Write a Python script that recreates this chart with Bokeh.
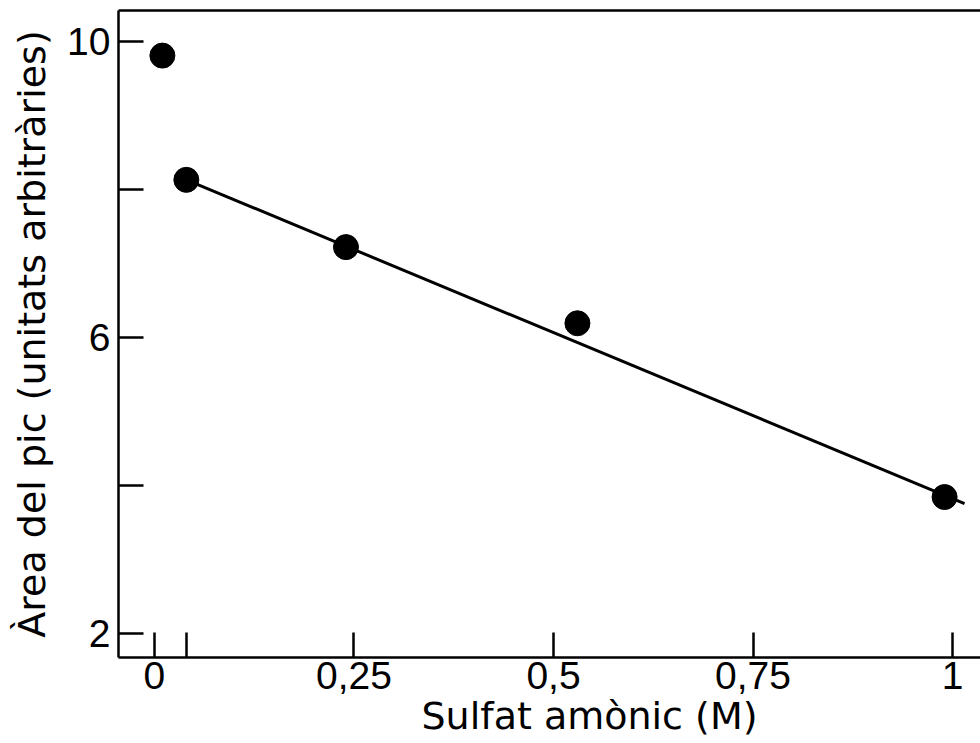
from bokeh.plotting import figure
from bokeh.models import Range1d, FixedTicker, LinearAxis, Title
from bokeh.embed import file_html
from bokeh.resources import INLINE

# Data
conc = [0.01, 0.04, 0.24, 0.53, 0.99]
area = [9.81, 8.13, 7.22, 6.19, 3.84]

fit_x = [0.04, 1.015]
fit_y = [8.13, 3.75]

x_ticks = [0, 0.04, 0.25, 0.5, 0.75, 1]
x_tick_labels = ["0", "", "0,25", "0,5", "0,75", "1"]
y_ticks = [2, 4, 6, 8, 10]
y_tick_labels = ["2", "", "6", "", "10"]

x_title = "Sulfat amònic (M)"
y_title = "Àrea del pic (unitats arbitràries)"

p = figure(width=980, height=743, output_backend="svg", toolbar_location=None,
           x_range=Range1d(-0.045, 1.035), y_range=Range1d(1.67, 10.42),
           min_border_left=118, min_border_right=0, min_border_top=10,
           min_border_bottom=86)
p.outline_line_color = None
p.xgrid.visible = False
p.ygrid.visible = False
p.background_fill_color = "white"
p.border_fill_color = "white"

tick_font = "Liberation Sans"
lab_font = "DejaVu Sans"

xa = p.xaxis[0]
xa.ticker = FixedTicker(ticks=x_ticks)
xa.major_label_overrides = {t: l for t, l in zip(x_ticks, x_tick_labels)}
ya = p.yaxis[0]
ya.ticker = FixedTicker(ticks=y_ticks)
ya.major_label_overrides = {t: l for t, l in zip(y_ticks, y_tick_labels)}

for ax in (xa, ya):
    ax.major_tick_in = 25
    ax.major_tick_out = 0
    ax.minor_tick_line_color = None
    ax.axis_line_width = 2.5
    ax.axis_line_color = "black"
    ax.major_tick_line_width = 2.5
    ax.major_tick_line_color = "black"
    ax.major_label_text_font = tick_font
    ax.major_label_text_font_size = "39px"
    ax.major_label_text_color = "black"

xa.major_label_standoff = 4
ya.major_label_standoff = 8
ya.axis_label = y_title
ya.axis_label_text_font = lab_font
ya.axis_label_text_font_size = "38px"
ya.axis_label_text_font_style = "normal"
ya.axis_label_text_color = "black"
ya.axis_label_standoff = 10

top = LinearAxis(ticker=FixedTicker(ticks=[]), axis_line_width=2.5,
                 axis_line_color="black", major_tick_in=0, major_tick_out=0,
                 minor_tick_line_color=None, major_label_standoff=0,
                 major_label_text_font_size="0px")
p.add_layout(top, "above")

t = Title(text=x_title, align="left", offset=303, standoff=0,
          text_font=lab_font, text_font_size="38px", text_font_style="normal",
          text_color="black")
p.add_layout(t, "below")

p.line(fit_x, fit_y, line_width=3, line_color="black")
p.scatter(conc, area, size=25, fill_color="black", line_color="black")

open("out.html", "w").write(file_html(p, INLINE))
